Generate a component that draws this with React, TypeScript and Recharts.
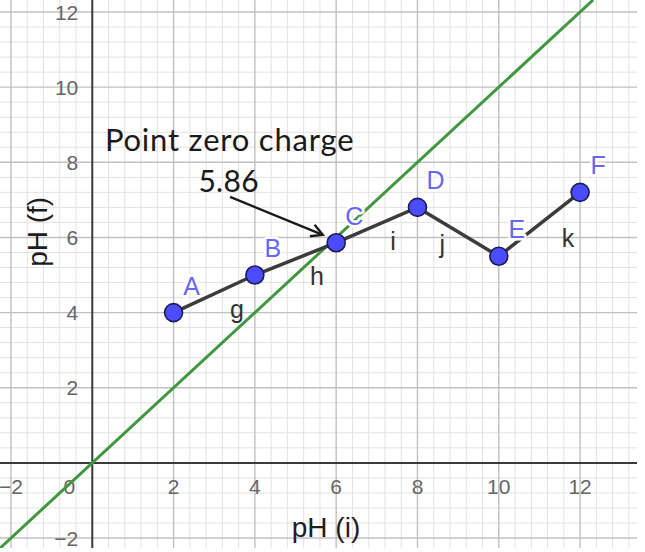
import React from 'react';
import { ComposedChart, XAxis, YAxis, Scatter, ReferenceLine } from 'recharts';

// Data
const phInitial = [2, 4, 6, 8, 10, 12];
const phFinal = [4, 5, 5.86, 6.8, 5.5, 7.2];
const pointNames = ['A', 'B', 'C', 'D', 'E', 'F'];

const segmentNames = ['g', 'h', 'i', 'j', 'k'];
const segmentLabelX = [3.56, 5.53, 7.4, 8.61, 11.7];
const segmentLabelY = [3.86, 4.74, 5.67, 5.59, 5.75];

const xTickValues = [-2, 2, 4, 6, 8, 10, 12];
const xTickLabels = ['−2', '2', '4', '6', '8', '10', '12'];
const yTickValues = [-2, 2, 4, 6, 8, 10, 12];
const yTickLabels = ['−2', '2', '4', '6', '8', '10', '12'];

const X_DOMAIN: [number, number] = [-2.27, 13.4];
const Y_DOMAIN: [number, number] = [-2.265, 12.32];

const identityLine = [
  { x: -2.265, y: -2.265 },
  { x: 12.32, y: 12.32 },
];

const zeroChargeTitle = 'Point zero charge';
const zeroChargeValue = '5.86';
const titlePos = { x: 0.31, y: 8.3 };
const valuePos = { x: 2.61, y: 7.21 };
const arrowFrom = { x: 3.39, y: 7.08 };
const arrowTo = { x: 5.67, y: 6.07 };

const xAxisTitle = 'pH (i)';
const yAxisTitle = 'pH (f)';
const xTitlePos = { x: 5.75, y: -1.97 };
const yTitlePos = { x: -1.115, y: 6.15 };

// grid values
const minorX: number[] = [];
const majorX: number[] = [];
for (let k = -5; k <= 33; k++) {
  const v = Math.round(k * 0.4 * 10) / 10;
  if (k % 5 === 0) majorX.push(v);
  else minorX.push(v);
}
const minorY: number[] = [];
const majorY: number[] = [];
for (let k = -5; k <= 30; k++) {
  const v = Math.round(k * 0.4 * 10) / 10;
  if (k % 5 === 0) majorY.push(v);
  else minorY.push(v);
}

const points = phInitial.map((x, i) => ({ x, y: phFinal[i], name: pointNames[i] }));
const segLabels = segmentNames.map((n, i) => ({ x: segmentLabelX[i], y: segmentLabelY[i], name: n }));
const xTicks = xTickValues.map((v, i) => ({ x: v, y: 0, name: xTickLabels[i] }));
const yTicks = yTickValues.map((v, i) => ({ x: 0, y: v, name: yTickLabels[i] }));
const originTick = [{ x: 0, y: 0, name: '0' }];

const LABEL_FONT = '"Liberation Sans", Arial, sans-serif';
const NOTE_FONT = 'Lato, "Open Sans", sans-serif';

const ArrowShape = (props: any) => {
  const { x1, y1, x2, y2 } = props;
  if ([x1, y1, x2, y2].some((v) => typeof v !== 'number' || isNaN(v))) return null;
  const ang = Math.atan2(y2 - y1, x2 - x1);
  const len = 13;
  const spread = 0.5;
  const ax = x2 - len * Math.cos(ang - spread);
  const ay = y2 - len * Math.sin(ang - spread);
  const bx = x2 - len * Math.cos(ang + spread);
  const by = y2 - len * Math.sin(ang + spread);
  return (
    <g>
      <line x1={x1} y1={y1} x2={x2} y2={y2} stroke="#1a1a1a" strokeWidth={2.4} />
      <polyline
        points={`${ax},${ay} ${x2},${y2} ${bx},${by}`}
        fill="none"
        stroke="#1a1a1a"
        strokeWidth={2.4}
        strokeLinejoin="miter"
      />
    </g>
  );
};

export default function App() {
  return (
    <div style={{ position: 'absolute', left: 0, top: 0, width: 645, height: 552, background: '#fff' }}>
      <ComposedChart
        width={645}
        height={552}
        margin={{ top: 0, right: 8, bottom: 4, left: 0 }}
      >
        <XAxis type="number" dataKey="x" domain={X_DOMAIN} allowDataOverflow hide />
        <YAxis type="number" dataKey="y" domain={Y_DOMAIN} allowDataOverflow hide />

        {minorX.map((v) => (
          <ReferenceLine key={`mx${v}`} x={v} stroke="#e2e2e2" strokeWidth={1} />
        ))}
        {minorY.map((v) => (
          <ReferenceLine key={`my${v}`} y={v} stroke="#e2e2e2" strokeWidth={1} />
        ))}
        {majorX.filter((v) => v !== 0).map((v) => (
          <ReferenceLine key={`Mx${v}`} x={v} stroke="#c0c0c0" strokeWidth={1.4} />
        ))}
        {majorY.filter((v) => v !== 0).map((v) => (
          <ReferenceLine key={`My${v}`} y={v} stroke="#c0c0c0" strokeWidth={1.4} />
        ))}
        <ReferenceLine x={0} stroke="#3a3a3a" strokeWidth={2} />
        <ReferenceLine y={0} stroke="#3a3a3a" strokeWidth={2} />

        <ReferenceLine segment={[arrowFrom, arrowTo]} shape={ArrowShape} />

        {/* tick labels */}
        <Scatter
          data={xTicks}
          isAnimationActive={false}
          shape={(p: any) => (
            <text
              x={p.cx}
              y={p.cy + 31}
              textAnchor="middle"
              fontFamily={LABEL_FONT}
              fontSize={21}
              fill="#666666"
            >
              {p.payload.name}
            </text>
          )}
        />
        <Scatter
          data={originTick}
          isAnimationActive={false}
          shape={(p: any) => (
            <text
              x={p.cx - 23}
              y={p.cy + 31}
              textAnchor="middle"
              fontFamily={LABEL_FONT}
              fontSize={21}
              fill="#666666"
            >
              {p.payload.name}
            </text>
          )}
        />
        <Scatter
          data={yTicks}
          isAnimationActive={false}
          shape={(p: any) => (
            <text
              x={p.cx - 14}
              y={p.cy + 7.5}
              textAnchor="end"
              fontFamily={LABEL_FONT}
              fontSize={21}
              fill="#666666"
            >
              {p.payload.name}
            </text>
          )}
        />

        {/* axis titles */}
        <Scatter
          data={[{ ...xTitlePos, name: xAxisTitle }]}
          isAnimationActive={false}
          shape={(p: any) => (
            <text x={p.cx} y={p.cy} textAnchor="middle" fontFamily={LABEL_FONT} fontSize={28} fill="#1e1e1e">
              {p.payload.name}
            </text>
          )}
        />
        <Scatter
          data={[{ ...yTitlePos, name: yAxisTitle }]}
          isAnimationActive={false}
          shape={(p: any) => (
            <text
              x={p.cx}
              y={p.cy}
              textAnchor="middle"
              fontFamily={LABEL_FONT}
              fontSize={28}
              fill="#1e1e1e"
              transform={`rotate(-90 ${p.cx} ${p.cy})`}
            >
              {p.payload.name}
            </text>
          )}
        />

        {/* annotation */}
        <Scatter
          data={[{ ...titlePos, name: zeroChargeTitle }]}
          isAnimationActive={false}
          shape={(p: any) => (
            <text x={p.cx} y={p.cy} fontFamily={NOTE_FONT} fontSize={31} fill="#1a1a1a" letterSpacing={0.8}>
              {p.payload.name}
            </text>
          )}
        />
        <Scatter
          data={[{ ...valuePos, name: zeroChargeValue }]}
          isAnimationActive={false}
          shape={(p: any) => (
            <text x={p.cx} y={p.cy} fontFamily={NOTE_FONT} fontSize={30} fill="#1a1a1a" letterSpacing={0.3}>
              {p.payload.name}
            </text>
          )}
        />

        {/* y = x line */}
        <Scatter
          data={identityLine}
          isAnimationActive={false}
          line={{ stroke: '#3f983f', strokeWidth: 3 }}
          shape={() => null}
        />

        {/* segment labels */}
        <Scatter
          data={segLabels}
          isAnimationActive={false}
          shape={(p: any) => (
            <text x={p.cx} y={p.cy} textAnchor="middle" fontFamily={LABEL_FONT} fontSize={25} fill="#333333">
              {p.payload.name}
            </text>
          )}
        />

        {/* polyline + points */}
        <Scatter
          data={points}
          isAnimationActive={false}
          line={{ stroke: '#3c3c3c', strokeWidth: 3.5 }}
          shape={(p: any) => (
            <circle cx={p.cx} cy={p.cy} r={9} fill="#4b4bff" stroke="#1c1c55" strokeWidth={1.6} />
          )}
        />

        {/* point labels */}
        <Scatter
          data={points}
          isAnimationActive={false}
          shape={(p: any) => (
            <text
              x={p.cx + 18}
              y={p.cy - 27}
              dy="0.36em"
              textAnchor="middle"
              fontFamily={LABEL_FONT}
              fontSize={25}
              fill="#6767f2"
              stroke="#ffffff"
              strokeWidth={5}
              paintOrder="stroke"
              strokeLinejoin="round"
            >
              {p.payload.name}
            </text>
          )}
        />
      </ComposedChart>
    </div>
  );
}
